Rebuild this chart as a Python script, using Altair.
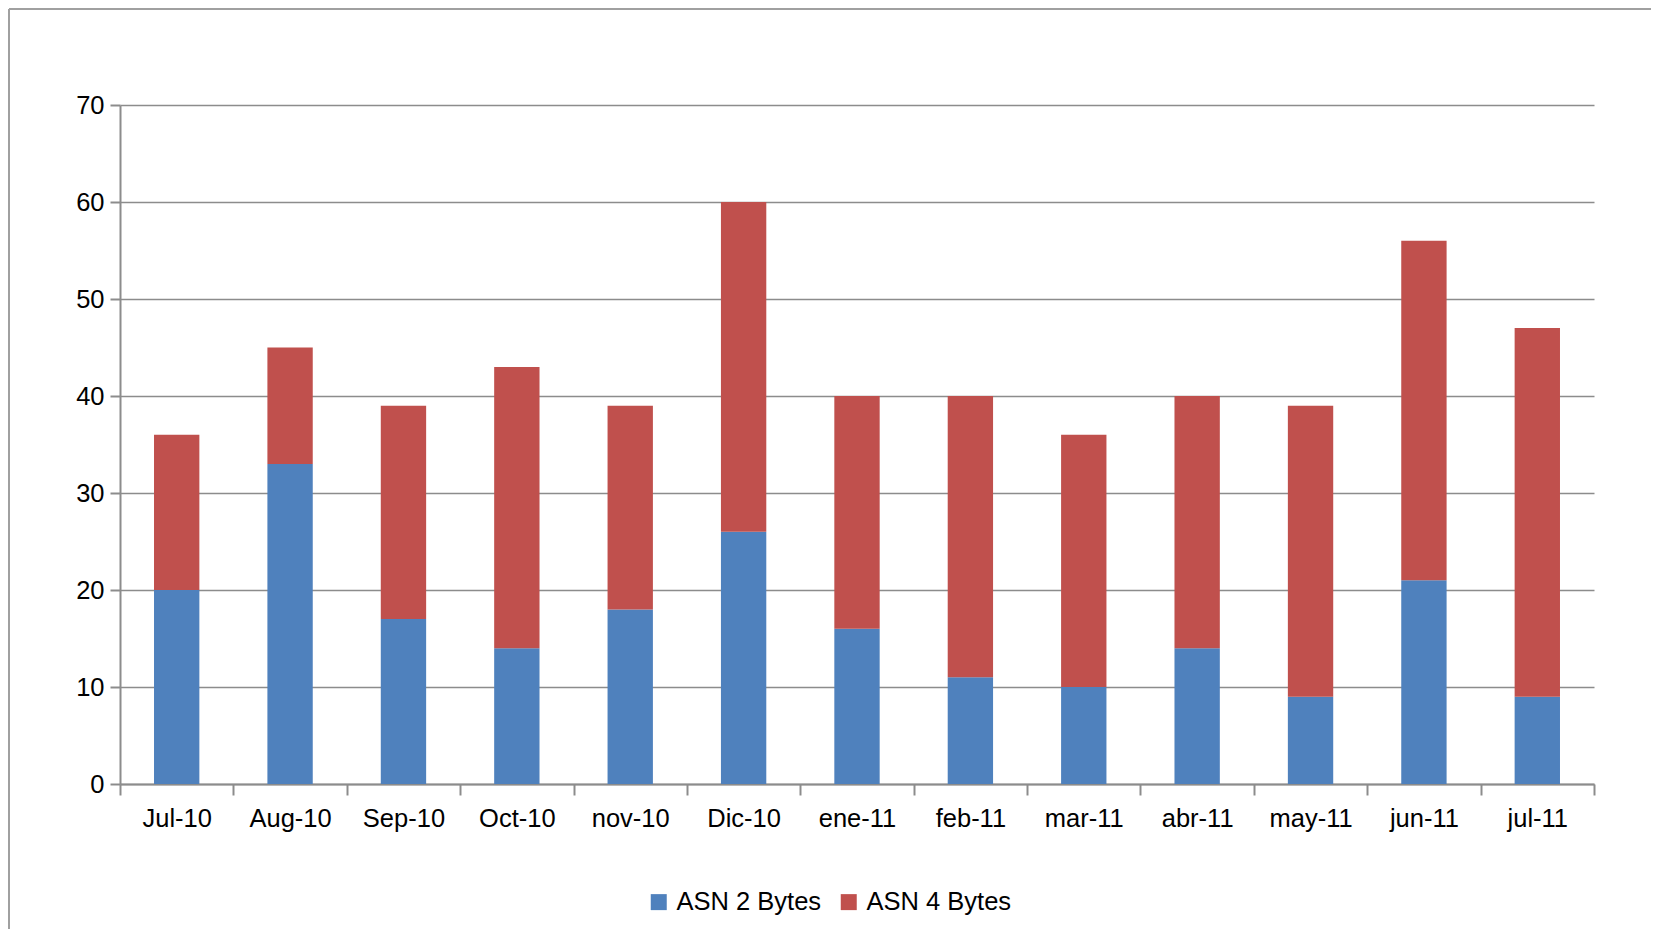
import altair as alt
import pandas as pd

months = ["Jul-10", "Aug-10", "Sep-10", "Oct-10", "nov-10", "Dic-10", "ene-11",
          "feb-11", "mar-11", "abr-11", "may-11", "jun-11", "jul-11"]
asn2 = [20, 33, 17, 14, 18, 26, 16, 11, 10, 14, 9, 21, 9]
asn4 = [16, 12, 22, 29, 21, 34, 24, 29, 26, 26, 30, 35, 38]
series = ["ASN 2 Bytes", "ASN 4 Bytes"]
colors = ["#4F81BD", "#C0504D"]

rows = []
for m, a, b in zip(months, asn2, asn4):
    rows.append({"month": m, "series": series[0], "value": a, "order": 0})
    rows.append({"month": m, "series": series[1], "value": b, "order": 1})
df = pd.DataFrame(rows)

FONT = "Liberation Sans"
GRAY = "#8c8c8c"
FS = 25.5

bars = alt.Chart(df).mark_bar(width=alt.RelativeBandSize(0.4)).encode(
    x=alt.X("month:N", sort=months,
            scale=alt.Scale(paddingInner=0, paddingOuter=0),
            axis=alt.Axis(title=None, labelAngle=0, tickBand="extent",
                          tickSize=11, tickColor=GRAY, tickWidth=2,
                          domainColor=GRAY, domainWidth=2,
                          labelFontSize=FS, labelFont=FONT, labelColor="#000000",
                          labelPadding=11, grid=False)),
    y=alt.Y("value:Q", stack="zero",
            scale=alt.Scale(domain=[0, 70]),
            axis=alt.Axis(title=None, values=list(range(0, 71, 10)),
                          tickSize=10, tickColor=GRAY, tickWidth=2,
                          domainColor=GRAY, domainWidth=2,
                          gridColor=GRAY, gridWidth=1.5,
                          labelFontSize=FS, labelFont=FONT, labelColor="#000000",
                          labelPadding=6)),
    color=alt.Color("series:N", scale=alt.Scale(domain=series, range=colors),
                    legend=alt.Legend(title=None, orient="none", direction="horizontal",
                                      legendX=526, legendY=784,
                                      symbolType="square", symbolSize=256,
                                      symbolStrokeWidth=0,
                                      labelFontSize=FS, labelFont=FONT,
                                      labelColor="#000000", columnPadding=14,
                                      labelOffset=5)),
    order=alt.Order("order:Q"),
)

frame_top = alt.Chart(pd.DataFrame({"k": [0]})).mark_rule(color="#a0a0a0", strokeWidth=2).encode(
    x=alt.value(-111), x2=alt.value(1540), y=alt.value(-96))
frame_left = alt.Chart(pd.DataFrame({"k": [0]})).mark_rule(color="#a0a0a0", strokeWidth=2).encode(
    x=alt.value(-111), y=alt.value(-96), y2=alt.value(840))

chart = alt.layer(bars, frame_top, frame_left).properties(
    width=1474, height=679,
    background="white",
    padding={"left": 112, "top": 97, "right": 57, "bottom": 145},
    autosize=alt.AutoSizeParams(type="none"),
).configure_view(stroke=None, strokeWidth=0)

chart.save("out.html", embed_options={"renderer": "svg", "actions": False})
